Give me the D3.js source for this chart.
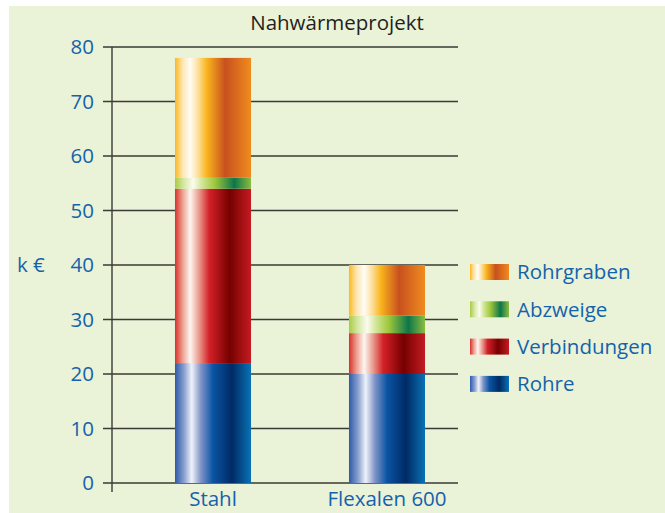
<!DOCTYPE html>
<html>
<head>
<meta charset="utf-8">
<script src="https://cdn.jsdelivr.net/npm/d3@7"></script>
<style>
  html, body { margin: 0; padding: 0; background: #fff; }
  text { font-family: "Open Sans", "Noto Sans", sans-serif; }
</style>
</head>
<body>
<div id="chart"></div>
<script>
(function() {

    var width = 665;
    var height = 513;

    // data
    var categories = ['Stahl', 'Flexalen 600'];
    var series = ['Rohre', 'Verbindungen', 'Abzweige', 'Rohrgraben'];
    var rohre = [22, 20];
    var verbindungen = [32, 7.5];
    var abzweige = [2, 3.2];
    var rohrgraben = [22, 9.3];
    var yTicks = [0, 10, 20, 30, 40, 50, 60, 70, 80];

    // gradient stops per series (horizontal shading)
    var gradStops = {
        'Rohre': [[0, '#2c5aa8'], [0.12, '#8aa0d0'], [0.22, '#eef2fa'], [0.34, '#8094c6'], [0.5, '#0a54a4'], [0.75, '#002a64'], [1, '#0a72b4']],
        'Verbindungen': [[0, '#d8302c'], [0.1, '#eca090'], [0.2, '#fdf6f2'], [0.32, '#e8988a'], [0.45, '#d42028'], [0.72, '#760000'], [1, '#c41c22']],
        'Abzweige': [[0, '#a8cc40'], [0.12, '#d8e8a8'], [0.24, '#fafcee'], [0.36, '#d0e494'], [0.52, '#a0c83c'], [0.78, '#0c7648'], [1, '#8cbc40']],
        'Rohrgraben': [[0, '#fbb820'], [0.1, '#fde6b0'], [0.2, '#fffdf6'], [0.3, '#fde0a0'], [0.42, '#f9b41c'], [0.66, '#c8501e'], [1, '#f08c1e']]
    };

    var blue = '#1462ac';

    var svg = d3.select('#chart').append('svg')
        .attr('width', width)
        .attr('height', height);

    var defs = svg.append('defs');
    series.forEach(function(s, i) {
        var g = defs.append('linearGradient')
            .attr('id', 'grad' + i)
            .attr('x1', '0%').attr('x2', '100%')
            .attr('y1', '0%').attr('y2', '0%');
        gradStops[s].forEach(function(st) {
            g.append('stop')
                .attr('offset', st[0])
                .attr('stop-color', st[1]);
        });
    });

    // background panel
    svg.append('rect')
        .attr('x', 9)
        .attr('y', 6)
        .attr('width', width - 9)
        .attr('height', height - 6)
        .style('fill', '#eaf2d7');

    var x = d3.scaleBand()
        .domain(categories)
        .range([112, 488])
        .paddingInner(0.563)
        .paddingOuter(0.362);

    var y = d3.scaleLinear()
        .domain([0, 80])
        .range([483, 47]);

    // gridlines + ticks
    svg.selectAll('line.grid')
        .data(yTicks)
        .enter()
        .append('line')
        .attr('class', 'grid')
        .attr('x1', 103)
        .attr('x2', 458)
        .attr('y1', function(d) { return y(d); })
        .attr('y2', function(d) { return y(d); })
        .style('stroke', '#3a3a36')
        .style('stroke-width', 1.6);

    // y axis line
    svg.append('line')
        .attr('x1', 112).attr('x2', 112)
        .attr('y1', y(80)).attr('y2', 492)
        .style('stroke', '#3a3a36')
        .style('stroke-width', 1.4);

    // tick labels
    svg.selectAll('text.ytick')
        .data(yTicks)
        .enter()
        .append('text')
        .attr('class', 'ytick')
        .attr('x', 94)
        .attr('y', function(d) { return y(d); })
        .attr('dy', '0.36em')
        .attr('text-anchor', 'end')
        .style('font-size', '20.5px')
        .style('fill', blue)
        .text(function(d) { return d; });

    svg.append('text')
        .attr('x', 17)
        .attr('y', y(40))
        .attr('dy', '0.36em')
        .style('font-size', '20.5px')
        .style('fill', blue)
        .text('k \u20ac');

    // stacked bars
    var rows = categories.map(function(c, i) {
        return { cat: c, Rohre: rohre[i], Verbindungen: verbindungen[i], Abzweige: abzweige[i], Rohrgraben: rohrgraben[i] };
    });
    var stacked = d3.stack().keys(series)(rows);

    svg.selectAll('g.layer')
        .data(stacked)
        .enter()
        .append('g')
        .attr('class', 'layer')
        .style('fill', function(d, i) { return 'url(#grad' + i + ')'; })
        .selectAll('rect')
        .data(function(d) { return d; })
        .enter()
        .append('rect')
        .attr('x', function(d) { return x(d.data.cat); })
        .attr('width', x.bandwidth())
        .attr('y', function(d) { return y(d[1]); })
        .attr('height', function(d) { return y(d[0]) - y(d[1]); });

    // category labels
    svg.selectAll('text.xlbl')
        .data(categories)
        .enter()
        .append('text')
        .attr('class', 'xlbl')
        .attr('x', function(d) { return x(d) + x.bandwidth() / 2; })
        .attr('y', 506)
        .attr('text-anchor', 'middle')
        .style('font-size', '20.5px')
        .style('fill', blue)
        .text(function(d) { return d; });

    // title
    svg.append('text')
        .attr('x', 337)
        .attr('y', 30)
        .attr('text-anchor', 'middle')
        .style('font-size', '20.5px')
        .style('fill', '#231f20')
        .text('Nahw\u00e4rmeprojekt');

    // legend (top-down reversed order)
    var legendItems = series.slice().reverse();
    var legend = svg.selectAll('g.legend')
        .data(legendItems)
        .enter()
        .append('g')
        .attr('class', 'legend')
        .attr('transform', function(d, i) { return 'translate(470,' + (272 + i * 37.3) + ')'; });

    legend.append('rect')
        .attr('x', 0)
        .attr('y', -8)
        .attr('width', 39)
        .attr('height', 16)
        .style('fill', function(d) { return 'url(#grad' + series.indexOf(d) + ')'; });

    legend.append('text')
        .attr('x', 47)
        .attr('y', 0)
        .attr('dy', '0.36em')
        .style('font-size', '20.5px')
        .style('fill', blue)
        .text(function(d) { return d; });

})();
</script>
</body>
</html>
